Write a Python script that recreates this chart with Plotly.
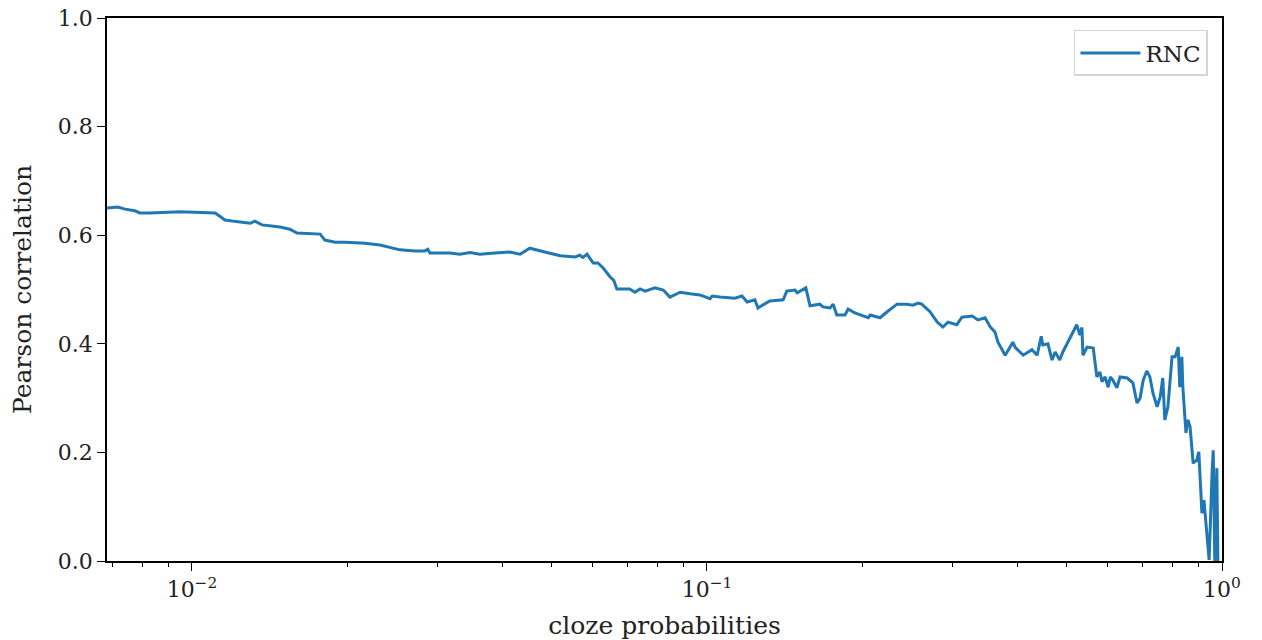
import plotly.graph_objects as go

# log10 of cloze probability (x) and Pearson correlation (y)
cloze_log10 = [
    -2.165, -2.144, -2.130, -2.111, -2.101, -2.082, -2.023, -1.955, -1.946, -1.936,
    -1.922, -1.897, -1.887, -1.878, -1.864, -1.829, -1.810, -1.796, -1.751, -1.742,
    -1.722, -1.703, -1.683, -1.664, -1.635, -1.596, -1.567, -1.548, -1.542, -1.538,
    -1.499, -1.480, -1.460, -1.441, -1.412, -1.383, -1.363, -1.344, -1.315, -1.285,
    -1.256, -1.247, -1.241, -1.233, -1.221, -1.212, -1.202, -1.188, -1.181, -1.175,
    -1.150, -1.140, -1.130, -1.120, -1.101, -1.085, -1.072, -1.052, -1.033, -1.014,
    -0.994, -0.990, -0.975, -0.946, -0.932, -0.922, -0.907, -0.901, -0.878, -0.852,
    -0.845, -0.829, -0.825, -0.819, -0.808, -0.800, -0.781, -0.775, -0.761, -0.755,
    -0.748, -0.732, -0.726, -0.713, -0.687, -0.683, -0.664, -0.650, -0.631, -0.612,
    -0.600, -0.590, -0.583, -0.567, -0.553, -0.542, -0.532, -0.515, -0.505, -0.485,
    -0.474, -0.460, -0.450, -0.441, -0.435, -0.421, -0.406, -0.402, -0.386, -0.369,
    -0.359, -0.351, -0.348, -0.338, -0.330, -0.324, -0.315, -0.309, -0.282, -0.276,
    -0.272, -0.270, -0.262, -0.250, -0.243, -0.237, -0.233, -0.227, -0.221, -0.217,
    -0.212, -0.204, -0.198, -0.184, -0.173, -0.165, -0.159, -0.153, -0.146, -0.140,
    -0.134, -0.126, -0.120, -0.115, -0.111, -0.105, -0.097, -0.091, -0.085, -0.082,
    -0.078, -0.076, -0.070, -0.066, -0.062, -0.056, -0.049, -0.045, -0.039, -0.035,
    -0.029, -0.025, -0.019, -0.017, -0.014, -0.010, -0.008,
]
pearson = [
    0.650, 0.652, 0.648, 0.645, 0.641, 0.641, 0.643, 0.641, 0.635, 0.628,
    0.626, 0.624, 0.622, 0.626, 0.619, 0.615, 0.611, 0.604, 0.602, 0.591,
    0.587, 0.587, 0.586, 0.585, 0.582, 0.573, 0.571, 0.571, 0.574, 0.567,
    0.567, 0.565, 0.568, 0.565, 0.567, 0.569, 0.565, 0.576, 0.569, 0.562,
    0.560, 0.563, 0.559, 0.565, 0.549, 0.549, 0.540, 0.523, 0.517, 0.501,
    0.501, 0.495, 0.501, 0.497, 0.503, 0.499, 0.486, 0.495, 0.492, 0.490,
    0.483, 0.488, 0.486, 0.484, 0.488, 0.477, 0.481, 0.466, 0.479, 0.481,
    0.497, 0.499, 0.494, 0.497, 0.503, 0.470, 0.473, 0.468, 0.466, 0.473,
    0.453, 0.453, 0.464, 0.457, 0.448, 0.453, 0.448, 0.459, 0.473, 0.473,
    0.471, 0.475, 0.473, 0.459, 0.440, 0.431, 0.440, 0.435, 0.449, 0.451,
    0.444, 0.448, 0.431, 0.422, 0.403, 0.379, 0.403, 0.394, 0.379, 0.389,
    0.379, 0.414, 0.398, 0.400, 0.370, 0.385, 0.370, 0.385, 0.435, 0.416,
    0.430, 0.379, 0.394, 0.392, 0.339, 0.348, 0.330, 0.339, 0.320, 0.339,
    0.333, 0.319, 0.339, 0.337, 0.328, 0.291, 0.300, 0.333, 0.350, 0.339,
    0.309, 0.284, 0.302, 0.337, 0.260, 0.284, 0.376, 0.376, 0.394, 0.320,
    0.376, 0.320, 0.236, 0.260, 0.247, 0.180, 0.186, 0.201, 0.088, 0.112,
    0.052, 0.002, 0.168, 0.204, 0.000, 0.171, 0.000,
]
assert len(cloze_log10) == len(pearson)
cloze = [10 ** e for e in cloze_log10]

x_major = [0.01, 0.1, 1.0]
x_major_text = ["10<sup>−2</sup>", "10<sup>−1</sup>", "10<sup>0</sup>"]
x_minor = [0.007, 0.008, 0.009] + [k / 100 for k in range(2, 10)] + [k / 10 for k in range(2, 10)]
y_ticks = [0.0, 0.2, 0.4, 0.6, 0.8, 1.0]
y_tick_text = ["0.0", "0.2", "0.4", "0.6", "0.8", "1.0"]

FONT = "DejaVu Serif"
TEXT = "#222222"

fig = go.Figure()
fig.add_trace(go.Scatter(
    x=cloze, y=pearson, mode="lines", name="RNC",
    line=dict(color="#1f77b4", width=3),
))

fig.update_layout(
    width=1262, height=640,
    margin=dict(l=107, r=40, t=18, b=79),
    paper_bgcolor="white", plot_bgcolor="white",
    font=dict(family=FONT, size=22, color=TEXT),
    showlegend=True,
    legend=dict(
        x=0.9874, y=0.978, xanchor="right", yanchor="top",
        bordercolor="#d4d4d4", borderwidth=1.5, bgcolor="white",
        font=dict(family=FONT, size=23, color=TEXT),
        itemwidth=60,
    ),
    xaxis=dict(
        type="log", range=[-2.165, 0], automargin=False,
        tickmode="array", tickvals=x_major, ticktext=x_major_text,
        ticks="outside", ticklen=8, tickwidth=1.4, tickcolor="black",
        minor=dict(tickmode="array", tickvals=x_minor, ticks="outside",
                   ticklen=4.5, tickwidth=1.1, tickcolor="black", showgrid=False),
        showline=True, linecolor="black", linewidth=1.6, mirror=True,
        showgrid=False, zeroline=False,
        title=dict(text="cloze probabilities", standoff=15,
                   font=dict(family=FONT, size=25, color=TEXT)),
        tickfont=dict(family=FONT, size=22, color=TEXT),
    ),
    yaxis=dict(
        range=[0, 1], automargin=False,
        tickmode="array", tickvals=y_ticks, ticktext=y_tick_text,
        ticks="outside", ticklen=8, tickwidth=1.4, tickcolor="black",
        showline=True, linecolor="black", linewidth=1.6, mirror=True,
        showgrid=False, zeroline=False,
        title=dict(text="Pearson correlation", standoff=19,
                   font=dict(family=FONT, size=25, color=TEXT)),
        tickfont=dict(family=FONT, size=22, color=TEXT),
    ),
)

fig.write_html(
    "out.html",
    config={"displayModeBar": False},
    post_script="document.body.style.margin='0';",
)
